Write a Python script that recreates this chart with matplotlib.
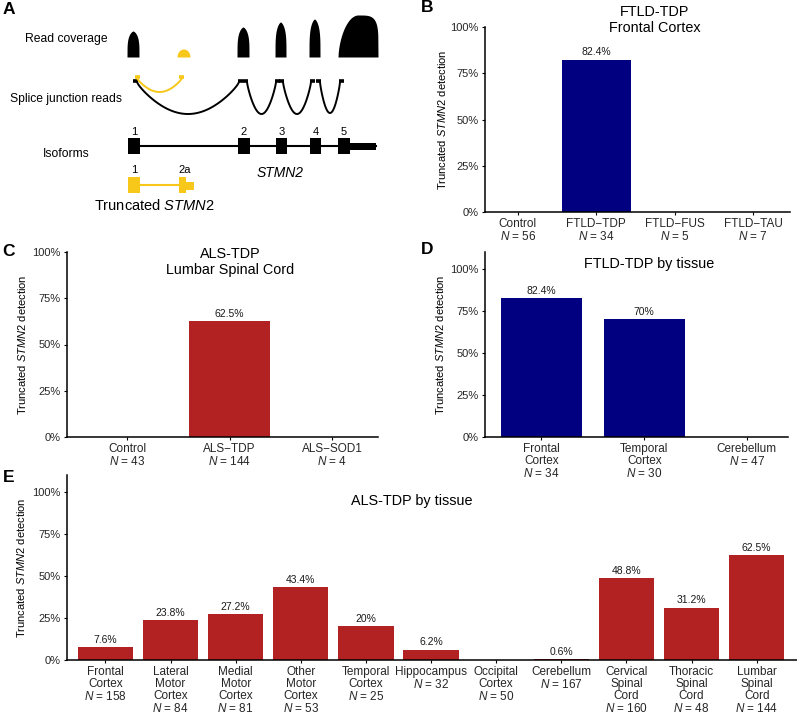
import numpy as np
import matplotlib.pyplot as plt
from matplotlib.patches import Rectangle

plt.rcParams['font.family'] = 'Liberation Sans'
plt.rcParams['mathtext.fontset'] = 'custom'
plt.rcParams['mathtext.rm'] = 'Liberation Sans'
plt.rcParams['mathtext.it'] = 'Liberation Sans:italic'

# ---- data ----
b_groups = ['Control', 'FTLD−TDP', 'FTLD−FUS', 'FTLD−TAU']
b_n = [56, 34, 5, 7]
b_pct = [0, 82.4, 0, 0]

c_groups = ['Control', 'ALS−TDP', 'ALS−SOD1']
c_n = [43, 144, 4]
c_pct = [0, 62.5, 0]

d_groups = ['Frontal\nCortex', 'Temporal\nCortex', 'Cerebellum']
d_n = [34, 30, 47]
d_pct = [82.4, 70, 0]

e_groups = ['Frontal\nCortex', 'Lateral\nMotor\nCortex', 'Medial\nMotor\nCortex',
            'Other\nMotor\nCortex', 'Temporal\nCortex', 'Hippocampus', 'Occipital\nCortex',
            'Cerebellum', 'Cervical\nSpinal\nCord', 'Thoracic\nSpinal\nCord',
            'Lumbar\nSpinal\nCord']
e_n = [158, 84, 81, 53, 25, 32, 50, 167, 160, 48, 144]
e_pct = [7.6, 23.8, 27.2, 43.4, 20, 6.2, 0, 0.6, 48.8, 31.2, 62.5]

# schematic gene model (panel A), in drawing units
exon_start = [128, 238, 276, 310, 338]
exon_end = [140, 250, 287, 321, 350]
exon_names = ['1', '2', '3', '4', '5']
utr_end = 376
cov_height = [26, 30, 35, 38, 42]
trunc_start = [128, 179]
trunc_end = [140, 186]
trunc_names = ['1', '2a']
junctions = [(137, 239, 32), (247, 276, 32), (283, 311, 32), (320, 340, 31)]
trunc_junction = (137, 182, 14)

NAVY = '#000080'
RED = '#B22222'
GOLD = '#F7C81A'

W, H = 797, 726
fig = plt.figure(figsize=(W / 100, H / 100), dpi=100)


def ftext(x, y, s, **kw):
    fig.text(x / W, 1 - y / H, s, **kw)


def px_axes(x0, y0, x1, y1):
    return fig.add_axes([x0 / W, 1 - y1 / H, (x1 - x0) / W, (y1 - y0) / H])


# ---- panel A: schematic ----
axa = px_axes(0, 0, 400, 220)
axa.set_xlim(0, 400)
axa.set_ylim(220, 0)
axa.axis('off')

base = 57
u = np.linspace(-1, 1, 201)
for i, (s, e, h) in enumerate(zip(exon_start, exon_end, cov_height)):
    if i == 4:
        e = utr_end + 2
        prof = np.where(u < 0, (1 - np.abs(u) ** 2) ** 0.6, (1 - np.abs(u) ** 4) ** 0.2)
    else:
        s, e = s - 1, e - 1
        prof = (1 - np.abs(u) ** 1.5) ** 0.25
    xs = s + (e - s) * (u + 1) / 2
    axa.fill_between(xs, base, base - h * prof, color='black', lw=0)
axa.fill_between(177 + 13 * (u + 1) / 2, base, base - 8 * np.sqrt(1 - u ** 2),
                 color=GOLD, lw=0)

# junction arcs
t = np.linspace(0, 1, 100)
for x0, x1, d in junctions:
    axa.plot(x0 + (x1 - x0) * t, 82 + d * np.sin(np.pi * t) ** 0.8, color='black', lw=1.4)
    axa.plot([x0 - 4, x0 + 1], [81.5, 81.5], color='black', lw=2.6, solid_capstyle='butt')
    axa.plot([x1 - 1, x1 + 4], [81.5, 81.5], color='black', lw=2.6, solid_capstyle='butt')
x0, x1, d = trunc_junction
axa.plot(x0 + (x1 - x0) * t, 78 + d * np.sin(np.pi * t) ** 0.8, color=GOLD, lw=1.4)
axa.plot([x0 - 2, x0 + 3], [77.5, 77.5], color=GOLD, lw=2.6, solid_capstyle='butt')
axa.plot([x1 - 3, x1 + 2], [77.5, 77.5], color=GOLD, lw=2.6, solid_capstyle='butt')

# full isoform
axa.plot([exon_end[0], utr_end], [146, 146], color='black', lw=1.5)
for s, e, name in zip(exon_start, exon_end, exon_names):
    axa.add_patch(Rectangle((s, 138), e - s, 16, color='black', lw=0))
    axa.text((s + e) / 2, 132, name, ha='center', va='center', fontsize=8)
axa.add_patch(Rectangle((exon_end[-1], 142.5), utr_end - exon_end[-1], 7.5, color='black', lw=0))

# truncated isoform
axa.plot([trunc_end[0], trunc_start[1]], [185, 185], color=GOLD, lw=1.5)
for s, e, name in zip(trunc_start, trunc_end, trunc_names):
    axa.add_patch(Rectangle((s, 177), e - s, 16, color=GOLD, lw=0))
    axa.text((s + e) / 2 + (2 if name == '2a' else 0), 170, name, ha='center', va='center', fontsize=8)
axa.add_patch(Rectangle((trunc_end[1], 182), 8, 8, color=GOLD, lw=0))

axa.text(25, 39, 'Read coverage', ha='left', va='center', fontsize=8.7)
axa.text(10, 99, 'Splice junction reads', ha='left', va='center', fontsize=8.7)
axa.text(43, 154, 'Isoforms', ha='left', va='center', fontsize=8.7)
axa.text(280, 173, 'STMN2', ha='center', va='center', fontsize=10, style='italic')
axa.text(154, 206, 'Truncated $\\it{STMN2}$', ha='center', va='center', fontsize=10.5)


# ---- bar panels ----
def bar_panel(box, groups, n, pct, color, ymax, xlim, width, label_x):
    ax = px_axes(*box)
    ax.set_facecolor('none')
    x = np.arange(len(groups))
    ax.bar(x, pct, width=width, color=color)
    for xi, v in zip(x, pct):
        if v > 0:
            ax.annotate(f'{v:g}%', (xi, v), xytext=(0, 1.5), textcoords='offset points',
                        ha='center', va='bottom', fontsize=7.5, color='#1a1a1a')
    ax.set_xticks(x, [f'{g}\n$\\it{{N}}$ = {k}' for g, k in zip(groups, n)],
                  linespacing=0.98, fontsize=8.5)
    ax.set_yticks([0, 25, 50, 75, 100], ['0%', '25%', '50%', '75%', '100%'])
    ax.set_xlim(*xlim)
    ax.set_ylim(0, ymax)
    for side in ['top', 'right']:
        ax.spines[side].set_visible(False)
    for side in ['left', 'bottom']:
        ax.spines[side].set_linewidth(1.1)
    ax.tick_params(length=2.5, width=0.8, labelcolor='#262626', pad=2)
    ax.tick_params(axis='y', labelsize=8)
    ax.set_ylabel('Truncated $\\it{STMN2}$ detection', fontsize=8)
    ax.yaxis.set_label_coords((label_x - box[0]) / (box[2] - box[0]), 0.5)
    return ax


bar_panel((485, 27, 790, 212), b_groups, b_n, b_pct, NAVY, 100, (-0.42, 3.47), 0.88, 448)
bar_panel((67, 252, 378, 437), c_groups, c_n, c_pct, RED, 100, (-0.59, 2.45), 0.79, 28)
bar_panel((485, 252, 788, 437), d_groups, d_n, d_pct, NAVY, 110, (-0.55, 2.40), 0.79, 446)
bar_panel((67, 475, 797, 660), e_groups, e_n, e_pct, RED, 110, (-0.59, 10.62), 0.85, 27)

# titles
ftext(655, 20, 'FTLD-TDP\nFrontal Cortex', ha='center', va='center', fontsize=10.4, linespacing=1.2)
ftext(230, 262, 'ALS-TDP\nLumbar Spinal Cord', ha='center', va='center', fontsize=10.4, linespacing=1.2)
ftext(649, 264, 'FTLD-TDP by tissue', ha='center', va='center', fontsize=10.4)
ftext(412, 501, 'ALS-TDP by tissue', ha='center', va='center', fontsize=10.4)

# panel letters
for letter, x, y in [('A', 3, 2), ('B', 421, 0), ('C', 2, 244), ('D', 421, 242), ('E', 3, 470)]:
    ftext(x, y, letter, ha='left', va='top', fontsize=12.5, fontweight='bold')

fig.savefig('out.png', dpi=100)
